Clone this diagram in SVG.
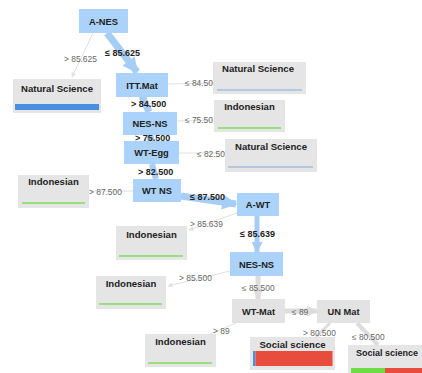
<svg xmlns="http://www.w3.org/2000/svg" width="422" height="373" viewBox="0 0 422 373">
<defs>
<style>
.nb{fill:#aad2fa}
.ng{fill:#e3e3e3}
.leaf{fill:#e5e5e5}
.nt{font-family:"Liberation Sans",Arial,sans-serif;font-size:9.3px;font-weight:bold;fill:#222;text-anchor:middle}
.lt{font-family:"Liberation Sans",Arial,sans-serif;font-size:9.6px;font-weight:bold;fill:#222;text-anchor:middle}
.el{font-family:"Liberation Sans",Arial,sans-serif;font-size:8.4px;fill:#666}
.eb{font-family:"Liberation Sans",Arial,sans-serif;font-size:9px;font-weight:bold;fill:#222}
.eblue{stroke:#a6cdf6;fill:none}
.egray{stroke:#dddddd;fill:none}
.ethin{stroke:#e0e0e0;stroke-width:1;fill:none}
.bl{stroke:#7fa9e0;stroke-width:1.2}
.gr{stroke:#7fdc5c;stroke-width:1.6}
</style>
<marker id="ab" viewBox="0 0 10 10" refX="9" refY="5" markerWidth="2.2" markerHeight="2.2" orient="auto" markerUnits="strokeWidth"><path d="M0,0L10,5L0,10z" fill="#a6cdf6"/></marker>
<marker id="ag" viewBox="0 0 10 10" refX="9" refY="5" markerWidth="2.2" markerHeight="2.2" orient="auto" markerUnits="strokeWidth"><path d="M0,0L10,5L0,10z" fill="#dddddd"/></marker>
<marker id="at" viewBox="0 0 10 10" refX="9" refY="5" markerWidth="5" markerHeight="5" orient="auto" markerUnits="strokeWidth"><path d="M0,0L10,5L0,10z" fill="#e0e0e0"/></marker>
</defs>
<rect width="422" height="373" fill="#ffffff"/>
<g id="connectors">
<line class="eblue" x1="107" y1="33" x2="137" y2="72" stroke-width="7" marker-end="url(#ab)"/>
<line class="ethin" x1="93" y1="33" x2="72" y2="77" marker-end="url(#at)"/>
<line class="ethin" x1="168" y1="84" x2="213" y2="83"/>
<line class="eblue" x1="142" y1="96" x2="149" y2="112" stroke-width="7"/>
<line class="ethin" x1="177" y1="121" x2="214" y2="120"/>
<line class="eblue" x1="150" y1="135" x2="151" y2="141" stroke-width="7"/>
<line class="ethin" x1="179" y1="153" x2="225" y2="153"/>
<line class="eblue" x1="152" y1="164" x2="156" y2="179" stroke-width="6"/>
<line class="ethin" x1="133" y1="191" x2="89" y2="191"/>
<line class="eblue" x1="181" y1="196" x2="236" y2="204" stroke-width="7" marker-end="url(#ab)"/>
<line class="ethin" x1="237" y1="213" x2="189" y2="230" marker-end="url(#at)"/>
<line class="eblue" x1="257" y1="216" x2="257" y2="252" stroke-width="5" marker-end="url(#ab)"/>
<line class="ethin" x1="230" y1="271" x2="168" y2="286" marker-end="url(#at)"/>
<line class="egray" x1="258" y1="276" x2="258" y2="299" stroke-width="5" marker-end="url(#ag)"/>
<line class="ethin" x1="236" y1="323" x2="210" y2="334"/>
<line class="egray" x1="285" y1="311" x2="317" y2="311" stroke-width="5" marker-end="url(#ag)"/>
<line class="egray" x1="330" y1="323" x2="316" y2="337" stroke-width="3"/>
<line class="egray" x1="357" y1="323" x2="378" y2="345" stroke-width="4"/>
</g>
<g id="edge-labels">
<text class="el" x="64" y="62">&gt; 85.625</text>
<text class="eb" x="105" y="56">≤ 85.625</text>
<text class="el" x="185" y="86">≤ 84.50</text>
<text class="eb" x="131" y="107">&gt; 84.500</text>
<text class="el" x="185" y="123">≤ 75.50</text>
<text class="eb" x="135" y="141">&gt; 75.500</text>
<text class="el" x="197" y="157">≤ 82.50</text>
<text class="eb" x="138" y="175">&gt; 82.500</text>
<text class="el" x="89" y="195">&gt; 87.500</text>
<text class="eb" x="190" y="200">≤ 87.500</text>
<text class="el" x="190" y="227">&gt; 85.639</text>
<text class="eb" x="240" y="237">≤ 85.639</text>
<text class="el" x="179" y="281">&gt; 85.500</text>
<text class="el" x="242" y="291">≤ 85.500</text>
<text class="el" x="213" y="334">&gt; 89</text>
<text class="el" x="292" y="315">≤ 89</text>
<text class="el" x="303" y="336">&gt; 80.500</text>
<text class="el" x="352" y="340">≤ 80.500</text>
</g>
<g id="n-anes"><rect class="nb" x="79" y="9" width="49" height="24"/><text class="nt" x="103.5" y="24.5">A-NES</text></g>
<g id="leaf-ns1"><rect class="leaf" x="13" y="79" width="88" height="34"/><text class="lt" x="57" y="92">Natural Science</text><rect x="15" y="104" width="84" height="6" fill="#4a8fe0"/></g>
<g id="n-ittmat"><rect class="nb" x="116" y="73" width="52" height="24"/><text class="nt" x="142" y="88.5">ITT.Mat</text></g>
<g id="leaf-ns2"><rect class="leaf" x="213" y="62" width="93" height="32"/><text class="lt" x="258" y="72">Natural Science</text><line class="bl" x1="217" y1="90" x2="302" y2="90"/></g>
<g id="n-nesns1"><rect class="nb" x="123" y="112" width="54" height="23"/><text class="nt" x="150" y="127">NES-NS</text></g>
<g id="leaf-ind1"><rect class="leaf" x="214" y="100" width="71" height="32"/><text class="lt" x="249.5" y="110">Indonesian</text><line class="gr" x1="218" y1="128" x2="281" y2="128"/></g>
<g id="n-wtegg"><rect class="nb" x="124" y="141" width="55" height="23"/><text class="nt" x="151.5" y="156">WT-Egg</text></g>
<g id="leaf-ns3"><rect class="leaf" x="225" y="139" width="92" height="33"/><text class="lt" x="271" y="149.5">Natural Science</text><line class="bl" x1="228" y1="167" x2="313" y2="167"/></g>
<g id="n-wtns"><rect class="nb" x="133" y="179" width="48" height="23"/><text class="nt" x="157" y="194">WT NS</text></g>
<g id="leaf-ind2"><rect class="leaf" x="18" y="175" width="71" height="33"/><text class="lt" x="53.5" y="185">Indonesian</text><line class="gr" x1="22" y1="203" x2="85" y2="203"/></g>
<g id="n-awt"><rect class="nb" x="237" y="193" width="42" height="23"/><text class="nt" x="258" y="208">A-WT</text></g>
<g id="leaf-ind3"><rect class="leaf" x="116" y="226" width="71" height="34"/><text class="lt" x="151.5" y="237.5">Indonesian</text><line class="gr" x1="119" y1="256" x2="183" y2="256"/></g>
<g id="n-nesns2"><rect class="nb" x="230" y="252" width="53" height="24"/><text class="nt" x="256.5" y="267.5">NES-NS</text></g>
<g id="leaf-ind4"><rect class="leaf" x="96" y="276" width="70" height="33"/><text class="lt" x="131" y="287">Indonesian</text><line class="gr" x1="99" y1="304" x2="162" y2="304"/></g>
<g id="n-wtmat"><rect class="ng" x="232" y="299" width="53" height="24"/><text class="nt" x="258.5" y="314.5">WT-Mat</text></g>
<g id="leaf-ind5"><rect class="leaf" x="145" y="334" width="71" height="33"/><text class="lt" x="180.5" y="344.5">Indonesian</text><line class="gr" x1="148" y1="363" x2="212" y2="363"/></g>
<g id="n-unmat"><rect class="ng" x="317" y="300" width="53" height="23"/><text class="nt" x="343.5" y="315">UN Mat</text></g>
<g id="leaf-ss1"><rect class="leaf" x="250" y="337" width="85" height="33"/><text class="lt" x="292.5" y="348">Social science</text><rect x="253" y="351" width="2.5" height="15" fill="#4a8fe0"/><rect x="255.5" y="351" width="77" height="15" fill="#e74c3c"/></g>
<g id="leaf-ss2"><rect class="leaf" x="348" y="345" width="80" height="30"/><text class="lt" x="356" y="356" style="text-anchor:start;font-size:9px">Social science</text><rect x="351" y="368" width="34" height="6" fill="#6ddc45"/><rect x="385" y="368" width="40" height="6" fill="#e74c3c"/></g>
</svg>
